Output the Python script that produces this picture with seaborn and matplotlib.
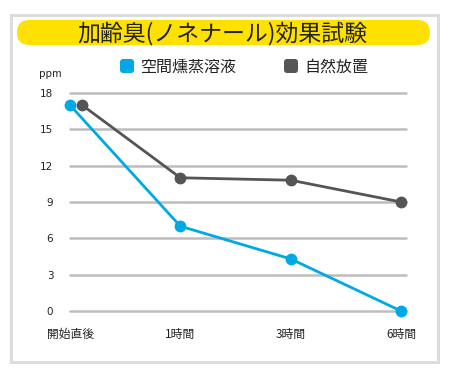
import matplotlib
matplotlib.use("Agg")
import matplotlib.pyplot as plt
from matplotlib.patches import FancyBboxPatch, Rectangle
import seaborn as sns
import pandas as pd

# ---- data ----
categories = ["開始直後", "1時間", "3時間", "6時間"]
fumigation = [17, 7, 4.3, 0]        # 空間燻蒸溶液
natural = [17, 11, 10.8, 9]         # 自然放置
series_names = ["空間燻蒸溶液", "自然放置"]
yticks = [0, 3, 6, 9, 12, 15, 18]
title = "加齢臭(ノネナール)効果試験"
unit = "ppm"

BLUE = "#00a8e6"
GRAY = "#555555"
GRID = "#bdbdbd"
TXT = "#222222"

sns.set_theme(style="white")
plt.rcParams["font.family"] = ["Noto Sans CJK JP", "DejaVu Sans"]

W, H = 450, 380
fig = plt.figure(figsize=(W / 100, H / 100), dpi=100)
fig.patch.set_facecolor("white")

def px(x, y):
    return (x / 100, (H - y) / 100)

tr = fig.dpi_scale_trans

# outer frame
fig.patches.append(Rectangle(px(11, 362), 427 / 100, 347 / 100, transform=tr,
                             facecolor="none", edgecolor="#dcdcdc", linewidth=2.2, zorder=0))
# title bar
fig.patches.append(FancyBboxPatch(px(17, 45), 413 / 100, 25 / 100, transform=tr,
                                  boxstyle="round,pad=0,rounding_size=0.125",
                                  facecolor="#ffe100", edgecolor="none", zorder=1))
fig.text(222 / W, 1 - 34 / H, title, ha="center", va="center", fontsize=16.5, color=TXT)

# legend
for (lx, name, col) in [(120, series_names[0], BLUE), (284, series_names[1], GRAY)]:
    fig.patches.append(FancyBboxPatch(px(lx, 73), 14 / 100, 14 / 100, transform=tr,
                                      boxstyle="round,pad=0,rounding_size=0.03",
                                      facecolor=col, edgecolor="none"))
    fig.text((lx + 20) / W, 1 - 67 / H, name, ha="left", va="center", fontsize=11.5, color=TXT)

fig.text(50 / W, 1 - 74 / H, unit, ha="center", va="center", fontsize=7.5, color=TXT)

# axes
ax = fig.add_axes([70 / W, 1 - 311 / H, 336 / W, 218 / H])
ax.set_facecolor("none")
ax.set_zorder(2)

pos = list(range(len(categories)))
gray_pos = [p + (0.11 if p == 0 else 0) for p in pos]

df_b = pd.DataFrame({"x": pos, "y": fumigation})
df_g = pd.DataFrame({"x": gray_pos, "y": natural})

sns.lineplot(data=df_b, x="x", y="y", ax=ax, color=BLUE, linewidth=2.0, marker="o",
             markersize=8.5, markeredgewidth=0, clip_on=False, zorder=3)
sns.lineplot(data=df_g, x="x", y="y", ax=ax, color=GRAY, linewidth=2.0, marker="o",
             markersize=8.5, markeredgewidth=0, clip_on=False, zorder=4)

ax.set_xlim(0, 3.045)
ax.set_ylim(0, 18)
ax.set_yticks(yticks)
ax.set_yticklabels([str(v) for v in yticks], fontsize=7.5, color=TXT, family="DejaVu Sans")
ax.set_xticks(pos)
ax.set_xticklabels(categories, fontsize=8.5, color=TXT)
ax.tick_params(axis="y", length=0, pad=12)
ax.tick_params(axis="x", length=0, pad=12)
for s in ax.spines.values():
    s.set_visible(False)
ax.grid(axis="y", color=GRID, linewidth=1.8)
ax.grid(axis="x", visible=False)
ax.set_xlabel("")
ax.set_ylabel("")
for gl in ax.get_ygridlines():
    gl.set_clip_on(False)

fig.savefig("out.png", dpi=100)
